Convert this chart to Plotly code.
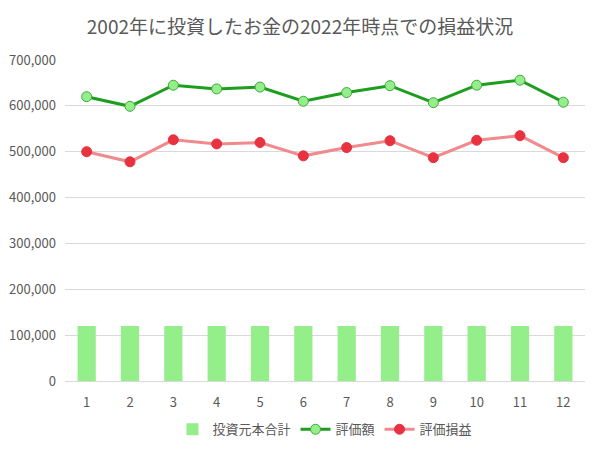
import plotly.graph_objects as go

categories = [str(i) for i in range(1, 13)]
principal = [120000] * 12
valuation = [620000, 599000, 645000, 637000, 641000, 610000, 629000, 644000, 607000, 645000, 656000, 608000]
profit = [500000, 478000, 526000, 517000, 520000, 491000, 509000, 524000, 487000, 525000, 535000, 487000]
tick_vals = [0, 100000, 200000, 300000, 400000, 500000, 600000, 700000]
tick_text = ["0", "100,000", "200,000", "300,000", "400,000", "500,000", "600,000", "700,000"]

font_family = "Noto Sans CJK JP"
text_color = "#595959"

fig = go.Figure()
fig.add_trace(go.Bar(x=categories, y=principal, name="投資元本合計",
                     marker=dict(color="#94ee8a", line=dict(width=0))))
fig.add_trace(go.Scatter(x=categories, y=valuation, name="評価額", mode="lines+markers",
                         line=dict(color="#1e9e1e", width=3),
                         marker=dict(size=10, color="#94ee8a", line=dict(color="#3fa83f", width=1))))
fig.add_trace(go.Scatter(x=categories, y=profit, name="評価損益", mode="lines+markers",
                         line=dict(color="#f08a8c", width=3),
                         marker=dict(size=10, color="#e8323f", line=dict(color="#e8323f", width=1))))

fig.update_layout(
    width=600, height=450,
    margin=dict(l=65, r=15, t=60, b=69, autoexpand=False),
    paper_bgcolor="white", plot_bgcolor="white",
    font=dict(family=font_family, color=text_color, size=13),
    title=dict(text="2002年に投資したお金の2022年時点での損益状況", x=0.5, xanchor="center",
               y=0.94, yanchor="middle", font=dict(size=19, color=text_color, family=font_family)),
    bargap=0.58,
    showlegend=True,
    legend=dict(orientation="h", x=0.5, xanchor="center", yref="container", y=0.046, yanchor="middle",
                font=dict(size=13, color=text_color), traceorder="normal"),
    xaxis=dict(range=[-0.5, 11.5], showgrid=False, showline=False, ticks="", automargin=False,
               ticklabelstandoff=12, tickfont=dict(size=13, color=text_color)),
    yaxis=dict(range=[0, 700000], tickvals=tick_vals, ticktext=tick_text, automargin=False,
               showgrid=True, gridcolor="#d9d9d9", gridwidth=1, zeroline=True,
               zerolinecolor="#d9d9d9", zerolinewidth=1, ticks="", ticklabelstandoff=8,
               tickfont=dict(size=13, color=text_color)),
)

fig.write_html("out.html")
